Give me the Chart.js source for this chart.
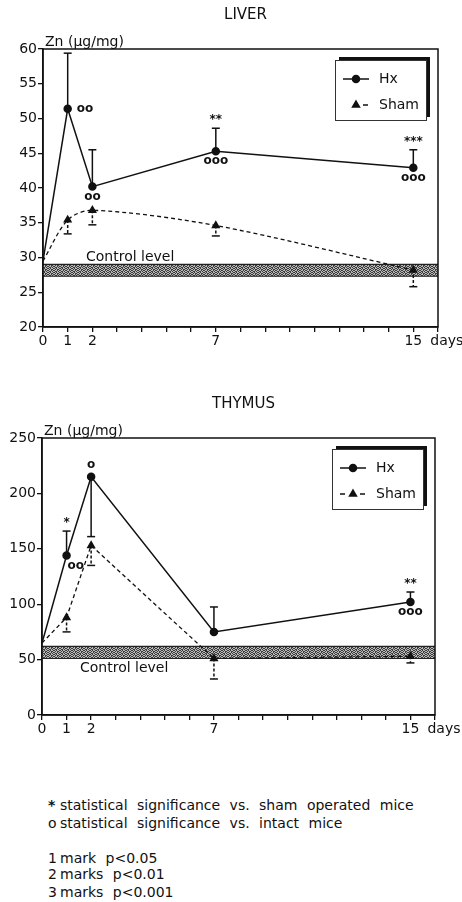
<!DOCTYPE html>
<html>
<head>
<meta charset="utf-8">
<script src="https://cdn.jsdelivr.net/npm/chart.js@4.4.0/dist/chart.umd.min.js"></script>
<style>
  html, body { margin: 0; padding: 0; background: #fff; }
  body { width: 462px; height: 902px; position: relative; overflow: hidden; font-family: "DejaVu Sans", sans-serif; color: #111; }
  canvas { position: absolute; left: 0; }
  .note { position: absolute; left: 48px; font-size: 14px; line-height: 16px; white-space: nowrap; word-spacing: 5px; }
  .note .k { display: inline-block; width: 12px; word-spacing: 0; }
</style>
</head>
<body>
<canvas id="liverChart" width="462" height="362" style="top:0"></canvas>
<canvas id="thymusChart" width="462" height="380" style="top:370px"></canvas>

<div class="note" style="top:797px"><span class="k"><b>*</b></span>statistical significance vs. sham operated mice</div>
<div class="note" style="top:815px"><span class="k">o</span>statistical significance vs. intact mice</div>
<div class="note" style="top:850px"><span class="k">1</span>mark p&lt;0.05</div>
<div class="note" style="top:866px"><span class="k">2</span>marks p&lt;0.01</div>
<div class="note" style="top:884px"><span class="k">3</span>marks p&lt;0.001</div>

<script>
"use strict";

// x values (days after operation) and the ones that get a label
const days = [0, 1, 2, 7, 15];
const dayLabels = [0, 1, 2, 7, 15];

// LIVER, Zn ug/mg : mean and end of the (one-sided) error bar
const liverHx = [29.5, 51.4, 40.2, 45.3, 42.9];
const liverHxErr = [null, 59.4, 45.5, 48.6, 45.5];
const liverSham = [29.5, 35.4, 36.8, 34.6, 28.2];
const liverShamErr = [null, 33.4, 34.7, 33.1, 25.8];
const liverControl = [27.3, 29.0];
const liverHxAbove = ["", "", "", "**", "***"];
const liverHxBelow = ["", "", "oo", "ooo", "ooo"];
const liverHxSide = ["", "oo", "", "", ""];

// THYMUS
const thymusHx = [65, 144, 215, 75, 102];
const thymusHxErr = [null, 166, 161, 97.5, 111];
const thymusSham = [65, 88, 153, 51, 53];
const thymusShamErr = [null, 75, 135, 32.5, 47];
const thymusControl = [51, 62];
const thymusHxAbove = ["", "*", "o", "", "**"];
const thymusHxBelow = ["", "", "", "", "ooo"];
const thymusHxSide = ["", "oo", "", "", ""];

const INK = "#111";
const FONT = "'DejaVu Sans', sans-serif";

const toXY = (vals) => vals.map((v, i) => ({ x: days[i], y: v }));

/**
 * grey stippled fill for the control level band
 */
function stipple(ctx) {
  const rows = [
    "x.x..x",
    ".x.xx.",
    "x..x.x",
    ".xx.x.",
  ];
  const c = document.createElement("canvas");
  c.width = 6;
  c.height = 4;
  const g = c.getContext("2d");
  g.fillStyle = "#b8b8b8";
  g.fillRect(0, 0, 6, 4);
  g.fillStyle = "#3c3c3c";
  rows.forEach((r, y) => [...r].forEach((ch, x) => { if (ch === "x") g.fillRect(x, y, 1, 1); }));
  return ctx.createPattern(c, "repeat");
}

function drawErrors(ctx, xs, ys, values, ends, dash) {
  values.forEach((v, i) => {
    const e = ends[i];
    if (e == null) return;
    const px = xs.getPixelForValue(days[i]);
    const py = ys.getPixelForValue(v);
    const pe = ys.getPixelForValue(e);
    ctx.setLineDash(dash);
    ctx.beginPath();
    ctx.moveTo(px, py);
    ctx.lineTo(px, pe);
    ctx.stroke();
    ctx.setLineDash([]);
    ctx.beginPath();
    ctx.moveTo(px - 4, pe);
    ctx.lineTo(px + 4, pe);
    ctx.stroke();
  });
}

function drawMarks(ctx, xs, ys, cfg) {
  ctx.font = "bold 12px " + FONT;
  ctx.textBaseline = "middle";
  ctx.fillStyle = INK;
  cfg.hx.forEach((v, i) => {
    const px = xs.getPixelForValue(days[i]);
    const py = ys.getPixelForValue(v);
    const e = cfg.hxErr[i];
    const top = e == null ? py : Math.min(py, ys.getPixelForValue(e));
    const a = cfg.above[i], b = cfg.below[i], s = cfg.side[i];
    if (a) {
      ctx.textAlign = "center";
      ctx.fillText(a, px, a.includes("*") ? top - 8 : top - 12);
    }
    if (b) {
      ctx.textAlign = "center";
      ctx.fillText(b, px, py + 10);
    }
    if (s) {
      ctx.textAlign = "left";
      ctx.fillText(s, px + cfg.sideOff[0], py + cfg.sideOff[1]);
    }
  });
}

function drawLegend(ctx, area, cfg) {
  const L = area.right - 103, T = area.top + 11, W = 91, H = 60;
  ctx.fillStyle = INK;
  ctx.fillRect(L + 4, T - 3, W, H);
  ctx.fillStyle = "#fff";
  ctx.fillRect(L, T, W, H);
  ctx.strokeStyle = "#333";
  ctx.lineWidth = 1;
  ctx.strokeRect(L + 0.5, T + 0.5, W, H);

  const cx = L + 21, y1 = T + 19, y2 = T + 45;
  ctx.strokeStyle = INK;
  ctx.fillStyle = INK;
  ctx.lineWidth = 1.5;
  ctx.beginPath();
  ctx.moveTo(L + 8, y1);
  ctx.lineTo(L + 34, y1);
  ctx.stroke();
  Chart.helpers.drawPoint(ctx, { pointStyle: "circle", radius: 3.5, borderWidth: 1 }, cx, y1);

  ctx.beginPath();
  if (cfg.dashLeft) {
    ctx.moveTo(L + 8, y2);
    ctx.lineTo(L + 13, y2);
  }
  ctx.moveTo(L + 28, y2);
  ctx.lineTo(L + 33, y2);
  ctx.stroke();
  Chart.helpers.drawPoint(ctx, { pointStyle: "triangle", radius: 4, borderWidth: 1 }, cx, y2);

  ctx.font = "14px " + FONT;
  ctx.textAlign = "left";
  ctx.textBaseline = "middle";
  ctx.fillText("Hx", L + 44, y1);
  ctx.fillText("Sham", L + 44, y2);
}

function panelPlugin(cfg) {
  return {
    id: "panel_" + cfg.id,
    beforeDatasetsDraw(chart) {
      const { ctx, chartArea: a, scales: { y } } = chart;
      const top = y.getPixelForValue(cfg.control[1]);
      const bot = y.getPixelForValue(cfg.control[0]);
      ctx.save();
      ctx.fillStyle = stipple(ctx);
      ctx.fillRect(a.left, top, a.right - a.left, bot - top);
      ctx.strokeStyle = "#222";
      ctx.lineWidth = 1.2;
      ctx.beginPath();
      ctx.moveTo(a.left, top);
      ctx.lineTo(a.right, top);
      ctx.moveTo(a.left, bot);
      ctx.lineTo(a.right, bot);
      ctx.stroke();

      ctx.fillStyle = INK;
      ctx.font = "14px " + FONT;
      ctx.textAlign = "left";
      ctx.textBaseline = "alphabetic";
      const ly = cfg.labelBelow ? bot + 14 : top - 3;
      ctx.fillText("Control level", a.left + cfg.labelX, ly);
      ctx.restore();
    },
    afterDatasetsDraw(chart) {
      const { ctx, chartArea: a, scales: { x, y } } = chart;
      ctx.save();
      ctx.strokeStyle = INK;
      ctx.lineWidth = 1.5;
      drawErrors(ctx, x, y, cfg.hx, cfg.hxErr, []);
      drawErrors(ctx, x, y, cfg.sham, cfg.shamErr, [3, 2]);
      drawMarks(ctx, x, y, cfg);

      // frame
      ctx.strokeStyle = INK;
      ctx.lineWidth = 1.5;
      ctx.strokeRect(a.left, a.top, a.right - a.left, a.bottom - a.top);

      drawLegend(ctx, a, cfg);

      // texts
      ctx.fillStyle = INK;
      ctx.font = "15px " + FONT;
      ctx.textAlign = "center";
      ctx.textBaseline = "alphabetic";
      ctx.fillText(cfg.title, (a.left + a.right) / 2 + 5, a.top - 30);
      ctx.font = "14px " + FONT;
      ctx.textAlign = "left";
      ctx.fillText("Zn (\u00b5g/mg)", a.left + 2, a.top - 3);
      ctx.textBaseline = "top";
      ctx.fillText("days", x.getPixelForValue(15) + 17, a.bottom + 7);
      ctx.restore();
    },
  };
}

/**
 * Builds one panel (liver or thymus)
 */
function buildPanel(canvas, cfg) {
  const tickFont = { family: "DejaVu Sans", size: 14 };
  return new Chart(canvas, {
    type: "line",
    data: {
      datasets: [
        {
          label: "Hx",
          data: toXY(cfg.hx),
          borderColor: INK,
          backgroundColor: INK,
          borderWidth: 1.5,
          pointStyle: "circle",
          pointRadius: [0, 3.5, 3.5, 3.5, 3.5],
          tension: 0,
        },
        {
          label: "Sham",
          data: toXY(cfg.sham),
          borderColor: INK,
          backgroundColor: INK,
          borderWidth: 1.3,
          borderDash: [4, 3],
          pointStyle: "triangle",
          pointRadius: [0, 4, 4, 4, 4],
          tension: cfg.shamTension,
        },
      ],
    },
    options: {
      responsive: false,
      animation: false,
      layout: { padding: { top: cfg.padTop, right: cfg.padRight, left: 0, bottom: 0 } },
      plugins: { legend: { display: false }, tooltip: { enabled: false } },
      scales: {
        x: {
          type: "linear",
          min: 0,
          max: 16,
          ticks: {
            stepSize: 1,
            autoSkip: false,
            maxRotation: 0,
            padding: 1,
            color: INK,
            font: tickFont,
            callback: (v) => (dayLabels.includes(v) ? String(v) : ""),
          },
          grid: { drawOnChartArea: false, tickLength: 5, color: INK, lineWidth: 1.3 },
          border: { color: INK, width: 1.5 },
          afterFit: (s) => { s.height = 35; },
        },
        y: {
          min: cfg.yMin,
          max: cfg.yMax,
          ticks: { stepSize: cfg.yStep, padding: 1, color: INK, font: tickFont },
          grid: { drawOnChartArea: false, tickLength: 5, color: INK, lineWidth: 1.3 },
          border: { color: INK, width: 1.5 },
          afterFit: (s) => { s.width = cfg.axisWidth; },
        },
      },
    },
    plugins: [panelPlugin(cfg)],
  });
}

buildPanel(document.getElementById("liverChart"), {
  id: "liver",
  title: "LIVER",
  hx: liverHx, hxErr: liverHxErr, sham: liverSham, shamErr: liverShamErr,
  control: liverControl,
  above: liverHxAbove, below: liverHxBelow, side: liverHxSide,
  sideOff: [9, 0],
  yMin: 20, yMax: 60, yStep: 5,
  padTop: 49, padRight: 24, axisWidth: 43,
  shamTension: 0.3,
  labelBelow: false, labelX: 43,
  dashLeft: false,
});

buildPanel(document.getElementById("thymusChart"), {
  id: "thymus",
  title: "THYMUS",
  hx: thymusHx, hxErr: thymusHxErr, sham: thymusSham, shamErr: thymusShamErr,
  control: thymusControl,
  above: thymusHxAbove, below: thymusHxBelow, side: thymusHxSide,
  sideOff: [1, 10],
  yMin: 0, yMax: 250, yStep: 50,
  padTop: 68, padRight: 27, axisWidth: 42,
  shamTension: 0,
  labelBelow: true, labelX: 38,
  dashLeft: true,
});
</script>
</body>
</html>
